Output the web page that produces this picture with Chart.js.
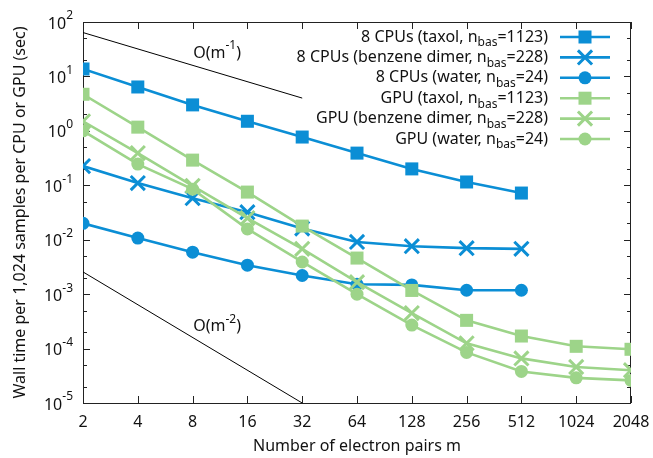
<!DOCTYPE html>
<html>
<head>
<meta charset="utf-8">
<script src="https://cdn.jsdelivr.net/npm/chart.js@4.4.0/dist/chart.umd.min.js"></script>
<style>
  html, body { margin: 0; padding: 0; background: #fff; }
  #wrap { width: 653px; height: 458px; position: relative; }
</style>
</head>
<body>
<div id="wrap"><canvas id="timingChart"></canvas></div>
<script>
// electron pairs m
const pairs = [2, 4, 8, 16, 32, 64, 128, 256, 512, 1024, 2048];
const yExponents = [-5, -4, -3, -2, -1, 0, 1, 2];

// wall time (sec) per 1,024 samples
const cpuTaxol   = [13.7, 6.4, 3.0, 1.5, 0.77, 0.39, 0.2, 0.115, 0.072];
const cpuBenzene = [0.225, 0.11, 0.058, 0.032, 0.016, 0.0091, 0.0076, 0.0070, 0.0068];
const cpuWater   = [0.020, 0.0107, 0.0059, 0.0034, 0.0022, 0.00152, 0.00148, 0.00118, 0.00118];
const gpuTaxol   = [4.7, 1.17, 0.29, 0.075, 0.0178, 0.0046, 0.00117, 0.00033, 0.00017, 0.00011, 0.000097];
const gpuBenzene = [1.5, 0.39, 0.098, 0.025, 0.0068, 0.00166, 0.00045, 0.000125, 0.000066, 0.000046, 0.00004];
const gpuWater   = [1.0, 0.245, 0.085, 0.0158, 0.0039, 0.001, 0.00027, 0.000085, 0.000038, 0.000029, 0.000026];

// scaling guides
const guideM1 = [[2, 64], [32, 4]];
const guideM2 = [[2, 0.00256], [32, 0.00001]];
const guideLabels = [
    { text: 'O(m', exp: '-1', x: 10.9, y: 27 },
    { text: 'O(m', exp: '-2', x: 10.9, y: 0.00025 }
];

const legendLabels = [
    ['8 CPUs (taxol, n', 'bas', '=1123)'],
    ['8 CPUs (benzene dimer, n', 'bas', '=228)'],
    ['8 CPUs (water, n', 'bas', '=24)'],
    ['GPU (taxol, n', 'bas', '=1123)'],
    ['GPU (benzene dimer, n', 'bas', '=228)'],
    ['GPU (water, n', 'bas', '=24)']
];

const BLUE = '#0b8ed5';
const GREEN = '#9dd489';
const FONT = '"Noto Sans", "Open Sans", sans-serif';
const BIG = '16px ' + FONT;
const SMALL = '12px ' + FONT;

const toPoints = (vals) => vals.map((v, i) => ({ x: pairs[i], y: v }));
const toXY = (arr) => arr.map(p => ({ x: p[0], y: p[1] }));

const markerStyles = [
    { pointStyle: 'rect', radius: 9.2, borderWidth: 0 },
    { pointStyle: 'crossRot', radius: 10, borderWidth: 3 },
    { pointStyle: 'circle', radius: 6.5, borderWidth: 0 }
];

const makeSeries = (label, vals, color, m, order) => ({
    label: label,
    data: toPoints(vals),
    borderColor: color,
    backgroundColor: color,
    borderWidth: 2.6,
    pointStyle: m.pointStyle,
    pointRadius: m.radius,
    pointBorderWidth: m.borderWidth,
    pointBackgroundColor: color,
    pointBorderColor: color,
    order: order
});

const guide = (data) => ({
    data: toXY(data),
    borderColor: '#000',
    borderWidth: 1,
    pointRadius: 0,
    order: 3
});

const seriesColors = [BLUE, BLUE, BLUE, GREEN, GREEN, GREEN];

const drawLabelText = (ctx, parts, rightX, y) => {
    const [pre, sub, post] = parts;
    ctx.font = BIG;
    const w1 = ctx.measureText(pre).width;
    const w3 = ctx.measureText(post).width;
    ctx.font = SMALL;
    const w2 = ctx.measureText(sub).width;
    let x = rightX - (w1 + w2 + w3);
    ctx.textAlign = 'left';
    ctx.textBaseline = 'middle';
    ctx.font = BIG;
    ctx.fillText(pre, x, y);
    x += w1;
    ctx.font = SMALL;
    ctx.fillText(sub, x, y + 6);
    x += w2;
    ctx.font = BIG;
    ctx.fillText(post, x, y);
};

const drawMarker = (ctx, m, color, x, y) => {
    ctx.fillStyle = color;
    ctx.strokeStyle = color;
    ctx.lineWidth = m.borderWidth;
    Chart.helpers.drawPoint(ctx, {
        pointStyle: m.pointStyle, radius: m.radius, rotation: 0, borderWidth: m.borderWidth
    }, x, y);
};

const framePlugin = {
    id: 'frame',
    beforeDatasetsDraw(chart) {
        const { ctx, chartArea: a, scales } = chart;
        ctx.save();
        ctx.strokeStyle = '#222';
        ctx.lineWidth = 1;
        ctx.strokeRect(a.left + 0.5, a.top + 0.5, a.right - a.left - 1, a.bottom - a.top);
        ctx.beginPath();
        pairs.forEach(v => {
            const x = Math.round(scales.x.getPixelForValue(v)) + 0.5;
            ctx.moveTo(x, a.bottom); ctx.lineTo(x, a.bottom - 7);
            ctx.moveTo(x, a.top); ctx.lineTo(x, a.top + 7);
        });
        yExponents.forEach(e => {
            [1, 2, 5].forEach(f => {
                const v = f * Math.pow(10, e);
                if (v > 100) return;
                const len = f === 1 ? 7 : 4;
                const y = Math.round(scales.y.getPixelForValue(v)) + 0.5;
                ctx.moveTo(a.left, y); ctx.lineTo(a.left + len, y);
                ctx.moveTo(a.right, y); ctx.lineTo(a.right - len, y);
            });
        });
        ctx.stroke();
        ctx.restore();
    },
    afterDraw(chart) {
        const { ctx, chartArea: a, scales } = chart;
        ctx.save();
        ctx.fillStyle = '#111';

        // x tick labels
        ctx.font = BIG;
        ctx.textAlign = 'center';
        ctx.textBaseline = 'middle';
        pairs.forEach(v => {
            ctx.fillText(String(v), scales.x.getPixelForValue(v), a.bottom + 19);
        });

        // y tick labels 10^e
        yExponents.forEach(e => {
            const y = scales.y.getPixelForValue(Math.pow(10, e));
            const exp = String(e);
            ctx.font = SMALL;
            const we = ctx.measureText(exp).width;
            const right = a.left - 10;
            ctx.textAlign = 'left';
            ctx.fillText(exp, right - we, y - 6);
            ctx.font = BIG;
            ctx.textAlign = 'right';
            ctx.fillText('10', right - we, y + 2);
        });

        // axis titles
        ctx.font = BIG;
        ctx.textAlign = 'center';
        ctx.fillText('Number of electron pairs m', (a.left + a.right) / 2, 446);
        ctx.save();
        ctx.translate(20, (a.top + a.bottom) / 2);
        ctx.rotate(-Math.PI / 2);
        ctx.fillText('Wall time per 1,024 samples per CPU or GPU (sec)', 0, 0);
        ctx.restore();

        // guide labels
        guideLabels.forEach(g => {
            const x = scales.x.getPixelForValue(g.x);
            const y = scales.y.getPixelForValue(g.y);
            ctx.font = BIG;
            const w1 = ctx.measureText(g.text).width;
            const w3 = ctx.measureText(')').width;
            ctx.font = SMALL;
            const w2 = ctx.measureText(g.exp).width;
            let sx = x - (w1 + w2 + w3) / 2;
            ctx.textAlign = 'left';
            ctx.font = BIG;
            ctx.fillText(g.text, sx, y);
            sx += w1;
            ctx.font = SMALL;
            ctx.fillText(g.exp, sx, y - 7);
            sx += w2;
            ctx.font = BIG;
            ctx.fillText(')', sx, y);
        });

        // legend
        const textRight = a.right - 83;
        const x0 = a.right - 71, x1 = a.right - 21, xm = a.right - 46;
        legendLabels.forEach((parts, i) => {
            const y = a.top + 15 + i * 20.4;
            ctx.fillStyle = '#111';
            drawLabelText(ctx, parts, textRight, y);
            const color = seriesColors[i];
            ctx.strokeStyle = color;
            ctx.lineWidth = 2.6;
            ctx.beginPath();
            ctx.moveTo(x0, y); ctx.lineTo(x1, y);
            ctx.stroke();
            drawMarker(ctx, markerStyles[i % 3], color, xm, y);
        });
        ctx.restore();
    }
};

new Chart(document.getElementById('timingChart'), {
    type: 'line',
    data: {
        datasets: [
            makeSeries('8 CPUs (taxol)', cpuTaxol, BLUE, markerStyles[0], 1),
            makeSeries('8 CPUs (benzene dimer)', cpuBenzene, BLUE, markerStyles[1], 1),
            makeSeries('8 CPUs (water)', cpuWater, BLUE, markerStyles[2], 1),
            makeSeries('GPU (taxol)', gpuTaxol, GREEN, markerStyles[0], 0),
            makeSeries('GPU (benzene dimer)', gpuBenzene, GREEN, markerStyles[1], 0),
            makeSeries('GPU (water)', gpuWater, GREEN, markerStyles[2], 0),
            guide(guideM1),
            guide(guideM2)
        ]
    },
    options: {
        responsive: true,
        maintainAspectRatio: false,
        animation: false,
        layout: { padding: { left: 83, right: 22, top: 22, bottom: 55 } },
        scales: {
            x: { type: 'logarithmic', min: 2, max: 2048, display: false },
            y: { type: 'logarithmic', min: 1e-5, max: 100, display: false }
        },
        plugins: {
            legend: { display: false },
            tooltip: { enabled: false }
        },
        elements: { line: { tension: 0 } }
    },
    plugins: [framePlugin]
});
</script>
</body>
</html>
